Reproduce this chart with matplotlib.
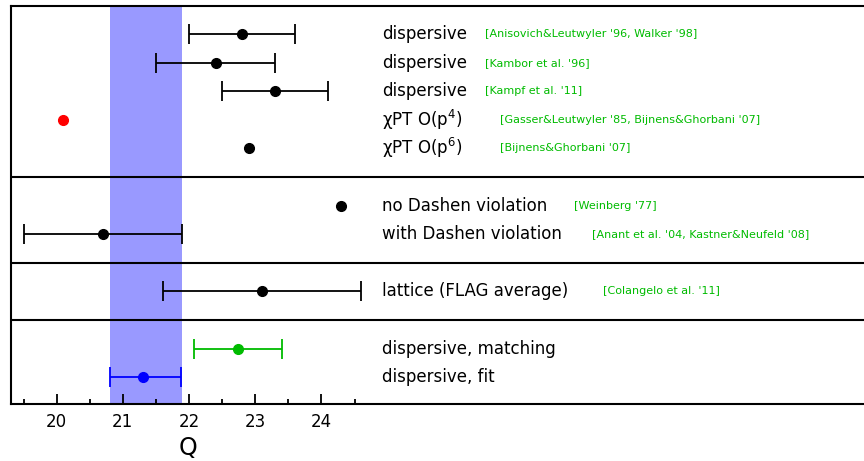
import matplotlib
matplotlib.use("Agg")
import matplotlib.pyplot as plt
from matplotlib.transforms import blended_transform_factory

# ---- data ----
rows = [1, 2, 3, 4, 5, 7, 8, 10, 12, 13]
values = [22.8, 22.4, 23.3, 20.1, 22.9, 24.3, 20.7, 23.1, 22.74, 21.3]
err_lo = [0.8, 0.9, 0.8, None, None, None, 1.2, 1.5, 0.67, 0.5]
err_hi = [0.8, 0.9, 0.8, None, None, None, 1.2, 1.5, 0.67, 0.58]
colors = ["black", "black", "black", "red", "black", "black", "black",
          "black", "#00bb00", "blue"]
labels = ["dispersive", "dispersive", "dispersive",
          r"χPT O(p$^{4}$)", r"χPT O(p$^{6}$)",
          "no Dashen violation", "with Dashen violation",
          "lattice (FLAG average)",
          "dispersive, matching", "dispersive, fit"]
refs = ["[Anisovich&Leutwyler '96, Walker '98]", "[Kambor et al. '96]",
        "[Kampf et al. '11]", "[Gasser&Leutwyler '85, Bijnens&Ghorbani '07]",
        "[Bijnens&Ghorbani '07]", "[Weinberg '77]",
        "[Anant et al. '04, Kastner&Neufeld '08]",
        "[Colangelo et al. '11]", "", ""]
ref_x = [26.47, 26.47, 26.47, 26.69, 26.69, 27.82, 28.08, 28.25, None, None]
separators = [6, 9, 11]
band = (20.8, 21.9)
major_ticks = [20, 21, 22, 23, 24]
minor_ticks = [19.5, 20.5, 21.5, 22.5, 23.5, 24.5]

# ---- figure ----
fig = plt.figure(figsize=(8.64, 4.61), dpi=100)
ax = fig.add_axes([10.7 / 864, 1 - 404.3 / 461, 1 - 10.7 / 864 + 0.002, (404.3 - 6) / 461])
ax.set_xlim(19.306, 32.22)
ax.set_ylim(13.95, 0.02)

ax.axvspan(band[0], band[1], color="#9999ff", lw=0, zorder=0)

for r, v, lo, hi, c in zip(rows, values, err_lo, err_hi, colors):
    if lo is None:
        ax.plot(v, r, "o", color=c, ms=7, zorder=3)
    else:
        ax.errorbar(v, r, xerr=[[lo], [hi]], fmt="o", color=c, ms=7,
                    capsize=7, elinewidth=1.3, capthick=1.3, zorder=3)

for s in separators:
    ax.axhline(s, color="black", lw=1.5, zorder=2)

for r, lab, ref, rx in zip(rows, labels, refs, ref_x):
    ax.text(24.91, r, lab, fontsize=12, va="center", ha="left",
            family="DejaVu Sans")
    if ref:
        ax.text(rx, r, ref, fontsize=8, va="center", ha="left",
                color="#00bb00", family="DejaVu Sans")

for side in ["left", "top", "bottom"]:
    ax.spines[side].set_linewidth(1.5)
ax.spines["right"].set_visible(False)

ax.set_yticks([])
ax.set_xticks(major_ticks)
ax.set_xticks(minor_ticks, minor=True)
ax.set_xticklabels([str(t) for t in major_ticks], fontsize=12)
ax.tick_params(axis="x", which="major", direction="in", length=7, width=1.3, pad=6)
ax.tick_params(axis="x", which="minor", direction="in", length=3.6, width=1.3)

trans = blended_transform_factory(ax.transData, fig.transFigure)
ax.text(21.98, 1 - 448 / 461, "Q", fontsize=17, ha="center", va="center",
        transform=trans)

fig.savefig("out.png", dpi=100)
